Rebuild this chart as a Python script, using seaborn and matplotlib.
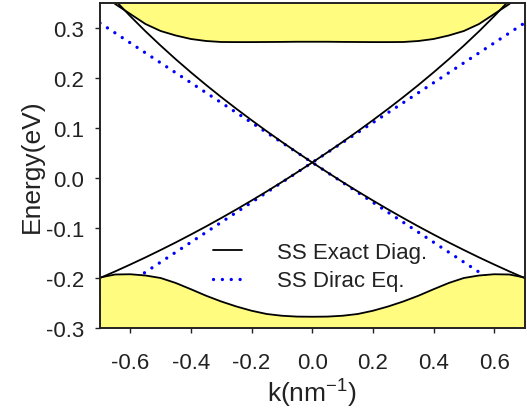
import numpy as np
import pandas as pd
import matplotlib
matplotlib.use('Agg')
import matplotlib.pyplot as plt
import seaborn as sns

# ---- data ----
k = [-0.70, -0.65, -0.60, -0.55, -0.50, -0.45, -0.40, -0.35, -0.30, -0.25,
     -0.20, -0.15, -0.10, -0.05, 0.00, 0.05, 0.10, 0.15, 0.20, 0.25,
     0.30, 0.35, 0.40, 0.45, 0.50, 0.55, 0.60, 0.65, 0.70]

# bulk conduction band bottom edge
cb_edge = [0.3800, 0.3480, 0.3280, 0.3080, 0.2940, 0.2850, 0.2780, 0.2740, 0.2720, 0.2718,
           0.2718, 0.2720, 0.2722, 0.2725, 0.2725, 0.2725, 0.2722, 0.2720, 0.2718, 0.2718,
           0.2720, 0.2740, 0.2780, 0.2850, 0.2940, 0.3080, 0.3280, 0.3480, 0.3800]

# bulk valence band top edge
vb_edge = [-0.1990, -0.1930, -0.1925, -0.1950, -0.2000, -0.2100, -0.2225, -0.2355, -0.2470, -0.2570,
           -0.2655, -0.2720, -0.2755, -0.2772, -0.2775, -0.2772, -0.2755, -0.2720, -0.2655, -0.2570,
           -0.2470, -0.2355, -0.2225, -0.2100, -0.2000, -0.1950, -0.1925, -0.1930, -0.1990]

# surface states, exact diagonalisation (upper and lower branch)
ss_upper = [0.3890, 0.3554, 0.3236, 0.2934, 0.2648, 0.2374, 0.2112, 0.1860, 0.1617, 0.1383,
            0.1156, 0.0935, 0.0721, 0.0513, 0.0310, 0.0513, 0.0721, 0.0935, 0.1156, 0.1383,
            0.1617, 0.1860, 0.2112, 0.2374, 0.2648, 0.2934, 0.3236, 0.3554, 0.3890]
ss_lower = [-0.2000, -0.1868, -0.1730, -0.1588, -0.1440, -0.1288, -0.1130, -0.0968, -0.0800, -0.0628,
            -0.0450, -0.0268, -0.0080, 0.0113, 0.0310, 0.0113, -0.0080, -0.0268, -0.0450, -0.0628,
            -0.0800, -0.0968, -0.1130, -0.1288, -0.1440, -0.1588, -0.1730, -0.1868, -0.2000]

# surface states, Dirac equation (straight lines)
dirac_k = [-0.70, 0.00, 0.70]
dirac_up = [-0.248, 0.031, 0.310]
dirac_dn = [0.310, 0.031, -0.248]

xticks = [-0.6, -0.4, -0.2, 0.0, 0.2, 0.4, 0.6]
yticks = [-0.3, -0.2, -0.1, 0.0, 0.1, 0.2, 0.3]

df = pd.DataFrame({'k': k, 'cb': cb_edge, 'vb': vb_edge, 'ssu': ss_upper, 'ssl': ss_lower})
dd = pd.DataFrame({'k': dirac_k, 'up': dirac_up, 'dn': dirac_dn})

# ---- style ----
sns.set_theme(style='ticks')
plt.rcParams['font.family'] = ['Liberation Sans', 'DejaVu Sans']
plt.rcParams['axes.unicode_minus'] = False
txt = '#222222'

fig = plt.figure(figsize=(5.27, 4.14), dpi=100)
ax = fig.add_axes([100 / 527, 85 / 414, 424.5 / 527, 325 / 414])

yellow = '#fffc80'
dot_style = dict(color='#0000ff', lw=2.4, linestyle=(0, (0.01, 2.65)), dash_capstyle='round')

# Dirac lines (under the bulk fills)
sns.lineplot(data=dd, x='k', y='up', ax=ax, estimator=None, sort=False, zorder=1,
             label='SS Dirac Eq.', **dot_style)
sns.lineplot(data=dd, x='k', y='dn', ax=ax, estimator=None, sort=False, zorder=1,
             label='_nolegend_', **dot_style)

# bulk bands
ax.fill_between(df['k'], df['cb'], 0.6, color=yellow, lw=0, zorder=2)
ax.fill_between(df['k'], df['vb'], -0.6, color=yellow, lw=0, zorder=2)
sns.lineplot(data=df, x='k', y='cb', ax=ax, estimator=None, sort=False, color='black',
             lw=1.3, zorder=3, label='_nolegend_')
sns.lineplot(data=df, x='k', y='vb', ax=ax, estimator=None, sort=False, color='black',
             lw=1.3, zorder=3, label='_nolegend_')

# exact surface states
sns.lineplot(data=df, x='k', y='ssu', ax=ax, estimator=None, sort=False, color='black',
             lw=1.3, zorder=3, label='SS Exact Diag.')
sns.lineplot(data=df, x='k', y='ssl', ax=ax, estimator=None, sort=False, color='black',
             lw=1.3, zorder=3, label='_nolegend_')

ax.set_xlim(-0.7, 0.7)
ax.set_ylim(-0.3, 0.35)
ax.set_xticks(xticks)
ax.set_xticklabels([f'{v:.1f}' for v in xticks])
ax.set_yticks(yticks)
ax.set_yticklabels([f'{v:.1f}' for v in yticks])
ax.tick_params(axis='both', direction='out', length=3.6, width=1.0, color=txt,
               labelcolor=txt, labelsize=16)
ax.tick_params(axis='x', pad=14)
ax.tick_params(axis='y', pad=8)
for s in ax.spines.values():
    s.set_linewidth(1.4)
    s.set_color(txt)
    s.set_zorder(5)

ax.set_xlabel(r'k(nm$^{\mathregular{-1}}$)', fontsize=19, color=txt, labelpad=1)
ax.set_ylabel('Energy(eV)', fontsize=19, color=txt, labelpad=1)

handles, labels = ax.get_legend_handles_labels()
order = [labels.index('SS Exact Diag.'), labels.index('SS Dirac Eq.')]
leg = ax.legend([handles[i] for i in order], [labels[i] for i in order],
                loc='center left', bbox_to_anchor=(0.266, 0.189), frameon=False,
                fontsize=16, handlelength=1.3, handletextpad=1.6, labelspacing=0.35,
                borderpad=0, borderaxespad=0)
for t in leg.get_texts():
    t.set_color(txt)

fig.savefig('out.png', dpi=100)
